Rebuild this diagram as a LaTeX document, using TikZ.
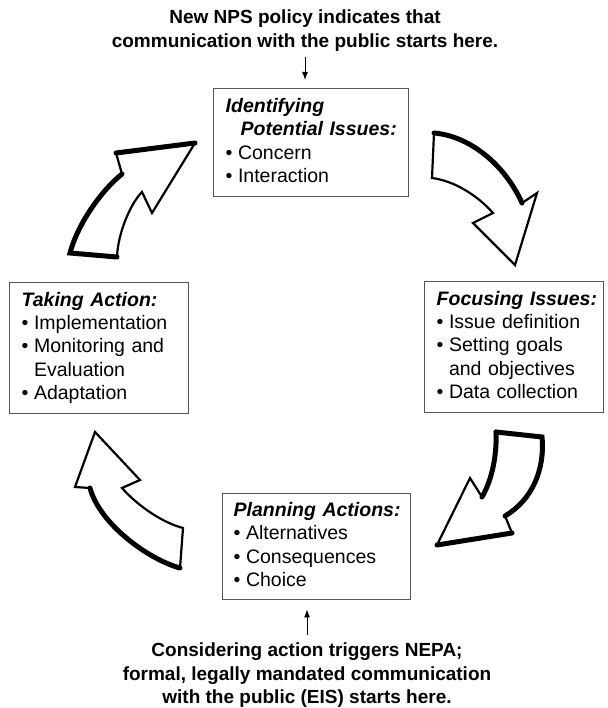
\documentclass[tikz,border=0pt]{standalone}
\usepackage{fontspec}
\setmainfont{Liberation Sans}
\usepackage{xcolor}
\usepackage{tikz}
\definecolor{boxgray}{RGB}{85,85,85}
\usetikzlibrary{arrows.meta}
\newcommand{\phasehead}[1]{\textbf{\textit{#1}}}
\tikzset{
    phasebox/.style={draw=boxgray, line width=1.4pt, anchor=north west, align=left, inner xsep=12pt, inner ysep=0pt, font=\fontsize{19.5}{23.3}\selectfont},
    notetext/.style={align=center, inner sep=0pt, font=\bfseries\fontsize{19}{23.3}\selectfont},
    flowarrow/.style={-{Latex[length=8pt,width=6pt]}, line width=1pt},
    cyclearrow/.style={draw, fill=white, line width=2.2pt, line join=miter, miter limit=3},
    cycleedge/.style={line width=5pt, line cap=round}
}

\begin{document}
\begin{tikzpicture}[x=1pt, y=-1pt]
  \useasboundingbox (0,0) rectangle (607,708);
  \node[notetext, anchor=north] (policy) at (305,10) {New NPS policy indicates that\\communication with the public starts here.};
  \node[notetext, anchor=north] (nepa) at (307,643) {Considering action triggers NEPA;\\formal, legally mandated communication\\with the public (EIS) starts here.};
  \node[phasebox, text width=171pt, minimum height=108pt] (identify) at (213,88) {%
    \begin{tabular}{@{}l@{\hspace{5.5pt}}l@{}}
      \multicolumn{2}{@{}l@{}}{\phasehead{Identifying}}\\
      \multicolumn{2}{@{}l@{}}{\hspace*{15pt}\phasehead{Potential Issues:}}\\
      \textbullet & Concern\\
      \textbullet & Interaction
    \end{tabular}};
  \node[phasebox, text width=155pt, minimum height=131pt] (focus) at (424,281) {%
    \begin{tabular}{@{}l@{\hspace{5.5pt}}l@{}}
      \multicolumn{2}{@{}l@{}}{\phasehead{Focusing Issues:}}\\
      \textbullet & Issue definition\\
      \textbullet & Setting goals\\
                  & and objectives\\
      \textbullet & Data collection
    \end{tabular}};
  \node[phasebox, text width=166pt, inner xsep=11pt, minimum height=106pt] (plan) at (222,493) {%
    \begin{tabular}{@{}l@{\hspace{5.5pt}}l@{}}
      \multicolumn{2}{@{}l@{}}{\phasehead{Planning Actions:}}\\
      \textbullet & Alternatives\\
      \textbullet & Consequences\\
      \textbullet & Choice
    \end{tabular}};
  \node[phasebox, text width=155pt, minimum height=131pt] (act) at (9,282) {%
    \begin{tabular}{@{}l@{\hspace{5.5pt}}l@{}}
      \multicolumn{2}{@{}l@{}}{\phasehead{Taking Action:}}\\
      \textbullet & Implementation\\
      \textbullet & Monitoring and\\
                  & Evaluation\\
      \textbullet & Adaptation
    \end{tabular}};
  \draw[flowarrow, shorten <=6pt, shorten >=8pt] (policy.south) -- (policy.south |- identify.north);
  \draw[flowarrow, shorten <=8pt, shorten >=9pt] (nepa.north) -- (nepa.north |- plan.south);
  \draw[cyclearrow] (70,253) .. controls (78,223) and (102,190) .. (122,174) -- (116,153) -- (195,143) -- (152,213) -- (142,192) .. controls (131,203) and (118,232) .. (117,257) -- cycle;
  \draw[cycleedge] (117,257) -- (70,253) .. controls (78,223) and (102,190) .. (122,174);
  \draw[cycleedge] (116,153) -- (195,143);
  \draw[cyclearrow] (434,133) .. controls (470,136) and (505,165) .. (522,203) -- (537,193) -- (515,265) -- (473,223) -- (493,213) .. controls (478,196) and (455,181) .. (432,178) -- cycle;
  \draw[cycleedge] (434,133) .. controls (470,136) and (505,165) .. (522,203);
  \draw[cyclearrow] (496,432) -- (542,437) .. controls (545,470) and (532,500) .. (505,516) -- (512,533) -- (437,545) -- (470,478) -- (482,497) .. controls (492,480) and (497,455) .. (496,432) -- cycle;
  \draw[cycleedge] (496,432) -- (542,437) .. controls (545,470) and (532,500) .. (505,516);
  \draw[cycleedge] (482,497) .. controls (492,480) and (497,455) .. (496,432);
  \draw[cycleedge] (512,533) -- (437,545);
  \draw[cyclearrow] (95,432) -- (140,480) -- (122,488) .. controls (135,503) and (160,522) .. (183,528) -- (180,568) .. controls (150,560) and (100,525) .. (90,488) -- (75,487) -- cycle;
  \draw[cycleedge] (180,568) .. controls (150,560) and (100,525) .. (90,488);
\end{tikzpicture}
\end{document}
